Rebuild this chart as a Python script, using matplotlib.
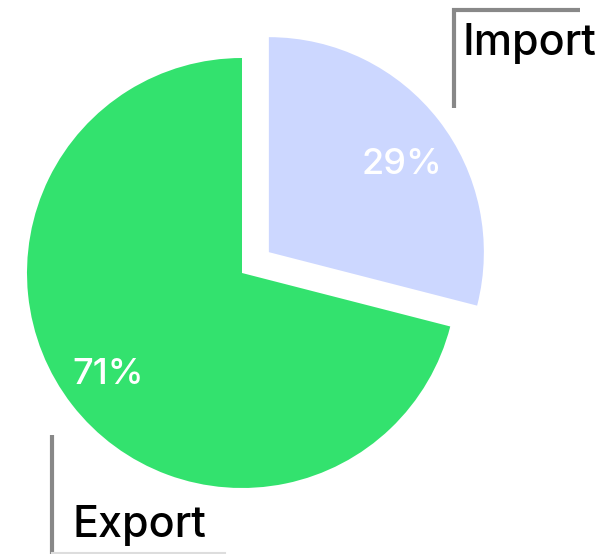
import matplotlib
matplotlib.use("Agg")
import matplotlib.pyplot as plt

# ── data ────────────────────────────────────────────────────────────────────
labels = ["Import", "Export"]
shares = [29, 71]
colors = ["#CCD7FF", "#33E26E"]
explode = [34, 0]

W, H = 608, 554
plt.rcParams["font.family"] = ["Inter", "DejaVu Sans"]

fig = plt.figure(figsize=(W / 100, H / 100), dpi=100)
ax = fig.add_axes([0, 0, 1, 1])

# canvas in pixel units, y measured upward
wedges, _, pcts = ax.pie(
    shares, colors=colors, explode=explode, startangle=90, counterclock=False,
    center=(242, H - 273), radius=215, autopct="%d%%", pctdistance=0.77,
    wedgeprops=dict(linewidth=0),
    textprops=dict(color="white", fontsize=26, fontweight="medium"),
)
ax.set_xlim(0, W)
ax.set_ylim(0, H)
ax.set_aspect("equal")
ax.axis("off")

# nudge the percentage labels a little off the mid-angle line
x, y = pcts[0].get_position()
pcts[0].set_position((x + 2, y - 14))
x, y = pcts[1].get_position()
pcts[1].set_position((x - 3, y))

# ── bracket labels ─────────────────────────────────────────────────────────
grey = "#888888"
ax.plot([454, 454, 580], [H - 108, H - 10, H - 10], color=grey, lw=3,
        solid_capstyle="butt", solid_joinstyle="miter")
ax.text(462, H - 55, labels[0], fontsize=31, fontweight="medium",
        color="black", ha="left", va="baseline")

ax.plot([52, 52], [H - 435, 0], color=grey, lw=3, solid_capstyle="butt")
ax.plot([52, 225], [1, 1], color="#DDDDDD", lw=1.5)
ax.text(72, H - 537, labels[1], fontsize=31, fontweight="medium",
        color="black", ha="left", va="baseline")

fig.savefig("out.png", dpi=100)
